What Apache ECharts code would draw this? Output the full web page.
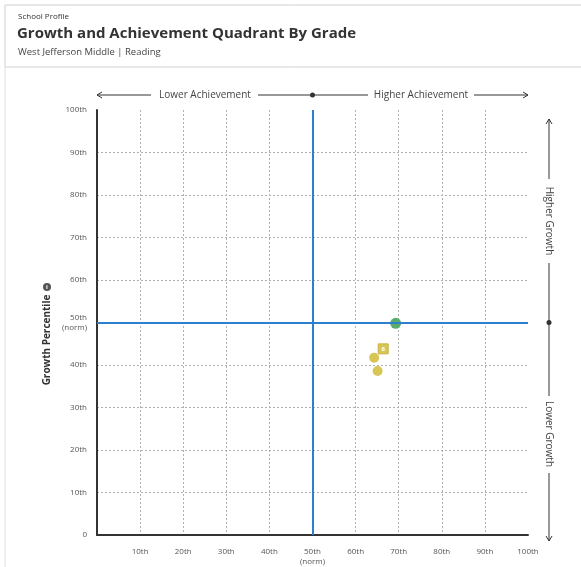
<!DOCTYPE html>
<html><head><meta charset="utf-8">
<script src="https://cdn.jsdelivr.net/npm/echarts@6/dist/echarts.min.js"></script>
<style>
html,body{margin:0;padding:0;background:#fff;}
#c{width:581px;height:567px;}
</style></head><body><div id="c"></div>
<script>
// Data
const xTicks = [0,10,20,30,40,50,60,70,80,90,100];
const xTickLabels = ['', '10th','20th','30th','40th','50th\n(norm)','60th','70th','80th','90th','100th'];
const yTickLabels = ['0','10th','20th','30th','40th','50th\n(norm)','60th','70th','80th','90th','100th'];
// achievement percentile, growth percentile
const greenPoints = [[69.3, 49.8]];
const yellowCircles = [[64.3, 41.7], [65.1, 38.6]];
const yellowSquares = [[66.4, 43.8]];
const squareLabels = ['6'];
const quadrantNorm = 50;

const font = '"Open Sans", "Noto Sans", sans-serif';
const chart = echarts.init(document.getElementById('c'));
const lbl = (arr) => (v) => arr[Math.round(v/10)];

chart.setOption({
  animation:false,
  grid:{left:97, right:53, top:110, bottom:30},
  xAxis:{type:'value', min:0, max:100, interval:10,
    axisLine:{show:true, onZero:false, lineStyle:{color:'#333', width:2}},
    axisTick:{show:false},
    splitLine:{show:true, showMinLine:false, showMaxLine:false, lineStyle:{color:'#b0b0b0', type:[2,2], width:1}},
    axisLabel:{formatter:lbl(xTickLabels), color:'#555', fontSize:8, fontFamily:font, margin:12, lineHeight:10, verticalAlign:'top'}},
  yAxis:{type:'value', min:0, max:100, interval:10,
    axisLine:{show:true, onZero:false, lineStyle:{color:'#333', width:2}},
    axisTick:{show:false},
    splitLine:{show:true, showMinLine:false, showMaxLine:false, lineStyle:{color:'#b0b0b0', type:[2,2], width:1}},
    axisLabel:{formatter:lbl(yTickLabels), color:'#555', fontSize:8, fontFamily:font, margin:10, lineHeight:10, align:'right'}},
  series:[
    {type:'scatter', data:yellowCircles, symbol:'circle', symbolSize:10,
      itemStyle:{color:'#d8c654', opacity:1}, z:3,
      markLine:{silent:true, symbol:'none', label:{show:false},
        lineStyle:{color:'#2d7fcf', width:2, type:'solid'},
        data:[{xAxis:quadrantNorm},{yAxis:quadrantNorm}]}},
    {type:'scatter', data:greenPoints, symbol:'circle', symbolSize:11,
      itemStyle:{color:'#5aac6c', opacity:1}, z:4},
    {type:'scatter', data:yellowSquares, symbol:'rect', symbolSize:10,
      itemStyle:{color:'#d8c654', opacity:1, borderColor:'#c9b443', borderWidth:1}, z:4,
      label:{show:true, position:'inside', formatter:(p)=>squareLabels[p.dataIndex], color:'#fff', fontSize:6, fontWeight:'bold', fontFamily:font}}
  ]
});

// Decorations positioned via the axes
const p0 = chart.convertToPixel({gridIndex:0}, [0,0]);
const p50 = chart.convertToPixel({gridIndex:0}, [50,50]);
const p100 = chart.convertToPixel({gridIndex:0}, [100,100]);
const ay = 95, ax = 549;
const lc = '#333';
const line = (x1,y1,x2,y2) => ({type:'line', shape:{x1,y1,x2,y2}, style:{stroke:lc, lineWidth:1}, silent:true});
const headH = (x,y) => ({type:'polyline', shape:{points:[[x+5,y-3],[x,y],[x+5,y+3]]}, style:{stroke:lc, lineWidth:1, fill:null}});
const headR = (x,y) => ({type:'polyline', shape:{points:[[x-5,y-3],[x,y],[x-5,y+3]]}, style:{stroke:lc, lineWidth:1, fill:null}});
const headU = (x,y) => ({type:'polyline', shape:{points:[[x-3,y+5],[x,y],[x+3,y+5]]}, style:{stroke:lc, lineWidth:1, fill:null}});
const headD = (x,y) => ({type:'polyline', shape:{points:[[x-3,y-5],[x,y],[x+3,y-5]]}, style:{stroke:lc, lineWidth:1, fill:null}});
const txtStyle = {fill:'#444', fontSize:10, fontFamily:font};

chart.setOption({graphic:[
  // header box
  {type:'rect', shape:{x:5, y:5, width:600, height:62}, style:{fill:'#fff', stroke:'#d0d0d0', lineWidth:1}},
  {type:'line', shape:{x1:5, y1:67, x2:5, y2:567}, style:{stroke:'#e0e0e0', lineWidth:1}},
  {type:'text', left:18, top:13, style:{text:'School Profile', fill:'#333', fontSize:8, fontFamily:font}},
  {type:'text', left:17, top:26, style:{text:'Growth and Achievement Quadrant By Grade', fill:'#333', fontSize:15, fontWeight:'bold', fontFamily:font}},
  {type:'text', left:18, top:47, style:{text:'West Jefferson Middle | Reading', fill:'#444', fontSize:9.5, fontFamily:font}},
  // top achievement arrow
  line(p0[0], ay, 151, ay), headH(p0[0], ay),
  {type:'text', x:205, y:ay, style:Object.assign({text:'Lower Achievement', align:'center', verticalAlign:'middle'}, txtStyle)},
  line(258, ay, 368, ay),
  {type:'circle', shape:{cx:p50[0], cy:ay, r:2.5}, style:{fill:lc}},
  {type:'text', x:421, y:ay, style:Object.assign({text:'Higher Achievement', align:'center', verticalAlign:'middle'}, txtStyle)},
  line(474, ay, p100[0], ay), headR(p100[0], ay),
  // right growth arrow
  line(ax, 119, ax, 179), headU(ax, 119),
  {type:'text', x:ax, y:221, rotation:-Math.PI/2, style:Object.assign({text:'Higher Growth', align:'center', verticalAlign:'middle'}, txtStyle)},
  line(ax, 263, ax, 396),
  {type:'circle', shape:{cx:ax, cy:p50[1], r:2.5}, style:{fill:lc}},
  {type:'text', x:ax, y:434, rotation:-Math.PI/2, style:Object.assign({text:'Lower Growth', align:'center', verticalAlign:'middle'}, txtStyle)},
  line(ax, 473, ax, 541), headD(ax, 541),
  // y axis name with info icon
  {type:'text', x:47, y:340, rotation:Math.PI/2, style:{text:'Growth Percentile', align:'center', verticalAlign:'middle', fill:'#333', fontSize:10, fontWeight:'bold', fontFamily:font}},
  {type:'circle', shape:{cx:47, cy:287, r:4}, style:{fill:'#555'}},
  {type:'text', x:47, y:287, style:{text:'i', align:'center', verticalAlign:'middle', fill:'#fff', fontSize:6, fontWeight:'bold', fontFamily:font}}
]});
</script></body></html>
